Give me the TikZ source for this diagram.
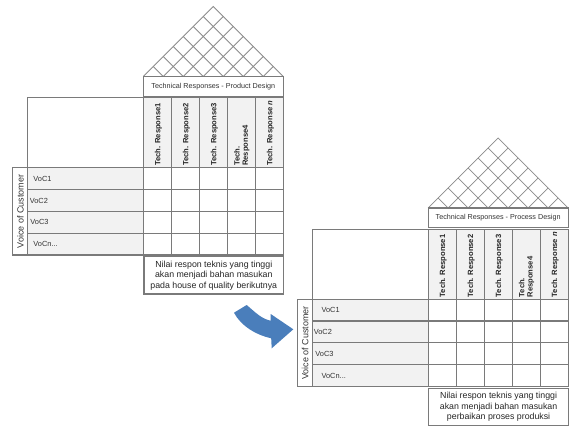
\documentclass[tikz,border=0pt]{standalone}
\usepackage{fontspec}
\setmainfont{Liberation Sans}
\definecolor{linec}{RGB}{122,122,122}
\definecolor{roofc}{RGB}{140,140,140}
\definecolor{cellfill}{RGB}{242,242,242}
\definecolor{arrowblue}{RGB}{74,126,187}
\tikzset{
  frameline/.style={draw=linec, line width=1.1pt},
  roofline/.style={draw=roofc, line width=0.8pt},
  hdrtext/.style={rotate=90, anchor=west, inner sep=0.5pt, align=left, text=black!85,
    font=\bfseries\fontsize{7.6}{8.2}\selectfont},
  titletext/.style={inner sep=0pt, text=black!80, font=\fontsize{7.2}{8.6}\selectfont},
  voctext/.style={anchor=west, inner sep=0pt, text=black!80, font=\fontsize{7.4}{8.6}\selectfont},
  sidetext/.style={rotate=90, inner sep=0pt, text=black!80, font=\fontsize{9}{10}\selectfont},
  notetext/.style={inner sep=0pt, align=center, text=black!85, font=\fontsize{8.8}{10.6}\selectfont},
}
% #1 title, #2 note, #3-#6 x positions of the VoC labels
\newcommand{\qfdhouse}[6]{%
  % roof
  \draw[roofline] (143.3,76.5) -- (213.3,6.5) -- (283.3,76.5);
  \foreach \k in {1,...,6}{
    \draw[roofline] ({143.3+20*\k},76.5) -- ({213.3+10*\k},{6.5+10*\k});
    \draw[roofline] ({143.3+20*\k},76.5) -- ({143.3+10*\k},{76.5-10*\k});
  }
  % title box
  \draw[frameline, fill=white] (143.3,76.5) rectangle (283.3,96.3);
  \node[titletext] (title) at (213.3,86.6) {#1};
  % fills
  \fill[cellfill] (143.3,97.7) rectangle (283.3,167.7);
  \fill[cellfill] (27.7,167.7) rectangle (143.3,255);
  % grid
  \foreach \x in {171.3,199.3,227.3,255.3}{
    \draw[frameline] (\x,97.7) -- (\x,255);
  }
  \draw[frameline] (143.3,97.7) -- (143.3,255);
  \foreach \y in {167.7,189.5,211.4,233.2}{
    \draw[frameline] (27.7,\y) -- (283.3,\y);
  }
  \draw[frameline] (27.7,97.7) rectangle (283.3,255);
  % side box
  \draw[frameline] (12.7,167.7) rectangle (27.7,255);
  \node[sidetext] (side) at (20.4,211.4) {Voice of Customer};
  % column headers
  \node[hdrtext] (h1) at (158.3,166.5) {Tech. Response1};
  \node[hdrtext] (h2) at (186.3,166.5) {Tech. Response2};
  \node[hdrtext] (h3) at (214.3,166.5) {Tech. Response3};
  \node[hdrtext] (h4) at (241.8,166.5) {Tech.\\Response4};
  \node[hdrtext] (h5) at (270.3,166.5) {Tech. Response \textit{n}};
  % row labels
  \node[voctext] (v1) at (#3,178.6) {VoC1};
  \node[voctext] (v2) at (#4,200.5) {VoC2};
  \node[voctext] (v3) at (#5,222.3) {VoC3};
  \node[voctext] (v4) at (#6,244.1) {VoCn...};
  % note box
  \draw[frameline] (144,256.7) rectangle (283.6,294);
  \node[notetext] (note) at (213.8,275.4) {#2};
}
\begin{document}
\begin{tikzpicture}[x=1pt,y=-1pt]
  \useasboundingbox (0,0) rectangle (571,426);
  \fill[white] (0,0) rectangle (571,426);
  \begin{scope}[name prefix=a-]
    \qfdhouse{Technical Responses - Product Design}%
      {Nilai respon teknis yang tinggi\\akan menjadi bahan masukan\\pada house of quality berikutnya}%
      {33.2}{29.6}{30.2}{33.2}
  \end{scope}
  \begin{scope}[shift={(284.8,131.5)}, name prefix=b-]
    \qfdhouse{Technical Responses - Process Design}%
      {Nilai respon teknis yang tinggi\\akan menjadi bahan masukan\\perbaikan proses produksi}%
      {36.6}{28.8}{30.4}{36.6}
  \end{scope}
  % curved arrow
  \fill[arrowblue] (234,312.7) -- (246.7,305)
     .. controls (256,313) and (262,319) .. (270.7,320.7)
     -- (270.7,314) -- (293.3,329.3) -- (271.7,348.3) -- (271.2,338.3)
     .. controls (256,335) and (241,326) .. (234,312.7) -- cycle;
\end{tikzpicture}
\end{document}
